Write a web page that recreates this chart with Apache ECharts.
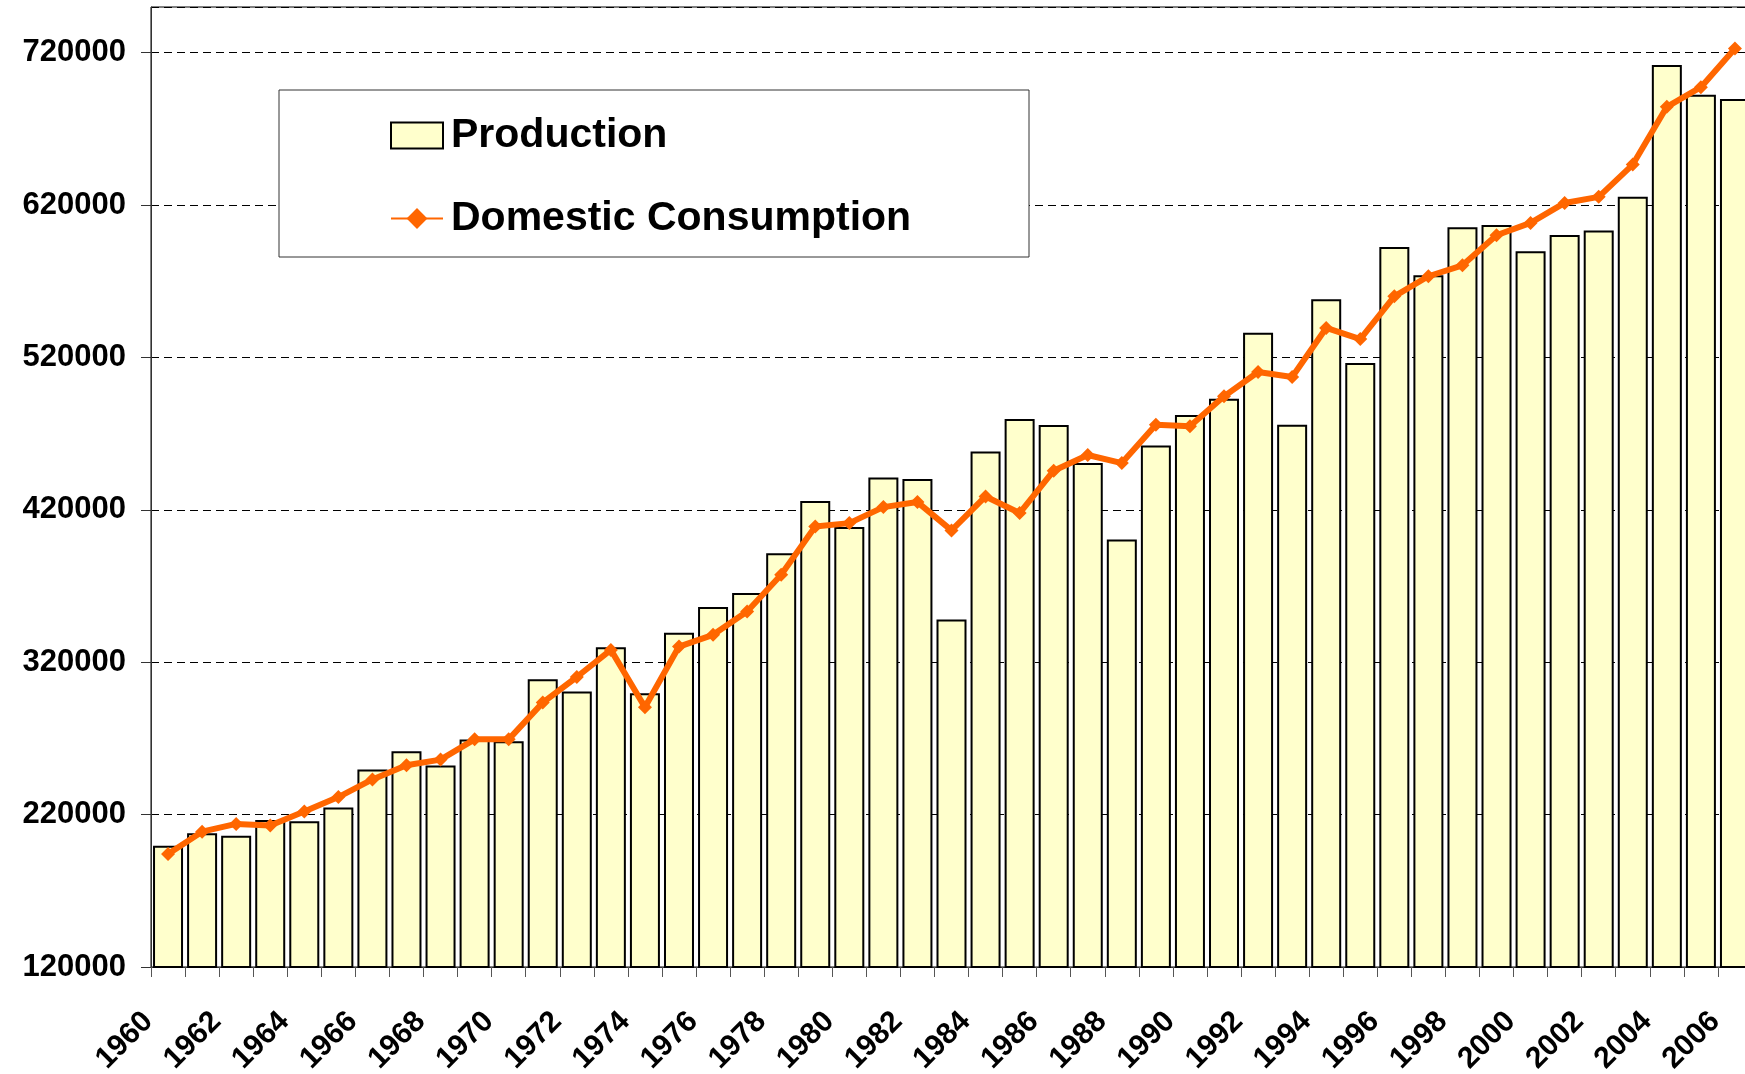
<!DOCTYPE html>
<html>
<head>
<meta charset="utf-8">
<title>Production and Domestic Consumption</title>
<script src="https://cdn.jsdelivr.net/npm/echarts@6/dist/echarts.min.js"></script>
<style>
  html, body { margin: 0; padding: 0; background: #fff; }
  #main { width: 1745px; height: 1074px; }
</style>
</head>
<body>
<div id="main"></div>
<script>
const years = ['1960','1961','1962','1963','1964','1965','1966','1967','1968','1969',
  '1970','1971','1972','1973','1974','1975','1976','1977','1978','1979',
  '1980','1981','1982','1983','1984','1985','1986','1987','1988','1989',
  '1990','1991','1992','1993','1994','1995','1996','1997','1998','1999',
  '2000','2001','2002','2003','2004','2005','2006'];

const production = [199600, 207800, 206200, 216500, 215600, 224600, 249600, 261600, 252200, 269300,
  268200, 308900, 300800, 329900, 299700, 339300, 356200, 365400, 391600, 425800,
  408700, 441300, 440200, 348000, 458300, 479600, 475700, 450700, 400600, 462300,
  482200, 492900, 536300, 475900, 558200, 516400, 592500, 573900, 605400, 607000,
  589700, 600400, 603300, 625400, 712000, 692400, 689700];

const consumption = [194200, 208800, 213900, 212800, 222000, 231500, 243100, 252400, 256100, 269400,
  269400, 293500, 310300, 328100, 290500, 330300, 338000, 353300, 377400, 409100,
  411300, 421800, 425100, 406500, 428800, 417900, 445700, 456000, 450700, 475900,
  474800, 494500, 510500, 507200, 539400, 532100, 560100, 573300, 580500, 600200,
  608300, 621400, 625400, 646600, 684500, 697400, 722800];

const yMin = 120000;
const yMax = 750000;
const yStep = 100000;

const font = '"Liberation Sans", Arial, sans-serif';

const chart = echarts.init(document.getElementById('main'), null, {renderer: 'canvas'});

const option = {
  backgroundColor: '#ffffff',
  animation: false,
  textStyle: {fontFamily: font},
  grid: {
    left: 151, top: 7, width: 1601, height: 960,
    outerBoundsMode: 'none',
    show: true, borderColor: '#000', borderWidth: 1, backgroundColor: 'transparent'
  },
  graphic: [{
    type: 'rect', z: 3,
    shape: {x: 279, y: 90, width: 750, height: 167},
    style: {fill: '#fff', stroke: '#333', lineWidth: 1}
  }],
  legend: {
    z: 5,
    orient: 'vertical',
    left: 390, top: 115,
    padding: 0,
    itemWidth: 52, itemHeight: 26,
    itemGap: 42,
    data: [
      {name: 'Production', icon: 'rect'},
      {name: 'Domestic Consumption'}
    ],
    textStyle: {fontSize: 41, fontWeight: 'bold', color: '#000', fontFamily: font, padding: [0, 0, 0, 3]}
  },
  xAxis: {
    type: 'category',
    data: years,
    boundaryGap: true,
    axisLine: {lineStyle: {color: '#333', width: 1}},
    axisTick: {show: true, interval: 0, length: 10, lineStyle: {color: '#555'}},
    axisLabel: {
      interval: 1, rotate: 45, margin: 30,
      padding: [0, 28, 0, 0],
      fontSize: 30, fontWeight: 'bold', color: '#000', fontFamily: font
    },
    splitLine: {show: false}
  },
  yAxis: {
    type: 'value',
    min: yMin, max: yMax, interval: yStep,
    axisLine: {show: true, lineStyle: {color: '#333', width: 1}},
    axisTick: {show: true, length: 10, lineStyle: {color: '#333'}},
    axisLabel: {
      margin: 25, showMaxLabel: false,
      formatter: function (v) { return String(v); },
      fontSize: 31, fontWeight: 'bold', color: '#000', fontFamily: font
    },
    splitLine: {show: true, lineStyle: {color: '#000', width: 1, type: [8, 5]}}
  },
  series: [
    {
      name: 'Production',
      type: 'bar',
      data: production,
      barWidth: 30,
      itemStyle: {color: '#FFFFCC', borderColor: '#000', borderWidth: 2}
    },
    {
      name: 'Domestic Consumption',
      type: 'line',
      data: consumption,
      symbol: 'diamond',
      symbolSize: 14,
      lineStyle: {color: '#FF6600', width: 6},
      itemStyle: {color: '#FF6600'}
    }
  ]
};

chart.setOption(option);
</script>
</body>
</html>
